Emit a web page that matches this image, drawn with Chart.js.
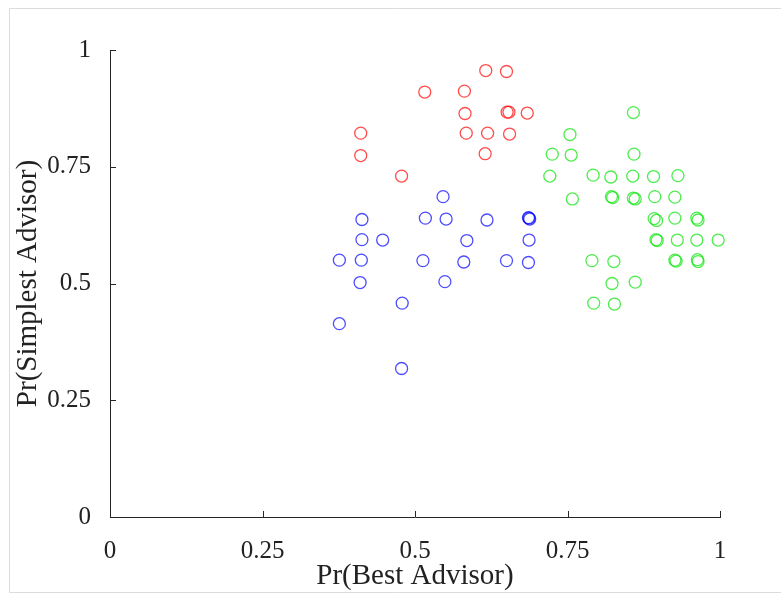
<!DOCTYPE html>
<html>
<head>
<meta charset="utf-8">
<script src="https://cdn.jsdelivr.net/npm/chart.js@4/dist/chart.umd.min.js"></script>
<style>
  html, body { margin: 0; padding: 0; background: #fff; }
  #wrap { position: relative; width: 781px; height: 594px; }
</style>
</head>
<body>
<div id="wrap"><canvas id="chart" width="781" height="594"></canvas></div>
<script>
// values
const tickValues = [0, 0.25, 0.5, 0.75, 1];
const tickLabels = ['0', '0.25', '0.5', '0.75', '1'];

const redX = [0.616, 0.650, 0.516, 0.581, 0.582, 0.651, 0.654, 0.684, 0.411, 0.584, 0.619, 0.655, 0.411, 0.615, 0.478];
const redY = [0.956, 0.954, 0.910, 0.912, 0.864, 0.867, 0.867, 0.865, 0.822, 0.822, 0.822, 0.820, 0.774, 0.778, 0.730];

const blueX = [0.546, 0.413, 0.517, 0.551, 0.618, 0.687, 0.688, 0.686, 0.413, 0.447, 0.585, 0.687,
               0.376, 0.412, 0.513, 0.580, 0.650, 0.686, 0.410, 0.549, 0.479, 0.376, 0.478];
const blueY = [0.686, 0.637, 0.640, 0.638, 0.636, 0.640, 0.638, 0.641, 0.594, 0.593, 0.592, 0.593,
               0.550, 0.550, 0.549, 0.546, 0.549, 0.545, 0.502, 0.504, 0.458, 0.414, 0.318];

const greenX = [0.858, 0.754, 0.725, 0.756, 0.859, 0.721, 0.792, 0.821, 0.857, 0.891, 0.931,
                0.758, 0.822, 0.824, 0.858, 0.861, 0.893, 0.926,
                0.892, 0.896, 0.926, 0.962, 0.964,
                0.895, 0.897, 0.930, 0.962, 0.997,
                0.790, 0.826, 0.926, 0.928, 0.963, 0.964,
                0.823, 0.861, 0.793, 0.827];
const greenY = [0.866, 0.819, 0.777, 0.775, 0.777, 0.730, 0.732, 0.728, 0.730, 0.729, 0.731,
                0.681, 0.686, 0.684, 0.683, 0.681, 0.686, 0.685,
                0.639, 0.635, 0.640, 0.640, 0.636,
                0.594, 0.592, 0.593, 0.593, 0.593,
                0.549, 0.547, 0.550, 0.548, 0.551, 0.547,
                0.500, 0.503, 0.458, 0.456];

const toPoints = (xs, ys) => xs.map((x, i) => ({ x: x, y: ys[i] }));

const serif = '"Liberation Serif", "DejaVu Serif", serif';
const axisColor = '#262626';

const makeSet = (label, xs, ys, color) => ({
    label: label,
    data: toPoints(xs, ys),
    pointStyle: 'circle',
    pointRadius: 6,
    pointHoverRadius: 6,
    borderWidth: 1.3,
    borderColor: color,
    backgroundColor: 'rgba(0,0,0,0)',
    clip: false
});

// light frame around the figure + inward tick marks like the original
const framePlugin = {
    id: 'frame',
    beforeDraw(chart) {
        const ctx = chart.ctx;
        ctx.save();
        ctx.fillStyle = '#fff';
        ctx.fillRect(0, 0, chart.width, chart.height);
        ctx.strokeStyle = '#dcdcdc';
        ctx.lineWidth = 1;
        ctx.beginPath();
        ctx.moveTo(9.5, chart.height - 1.5);
        ctx.lineTo(9.5, 8.5);
        ctx.lineTo(chart.width, 8.5);
        ctx.moveTo(9.5, chart.height - 1.5);
        ctx.lineTo(chart.width, chart.height - 1.5);
        ctx.stroke();
        ctx.restore();
    },
    afterDraw(chart) {
        const ctx = chart.ctx;
        const xs = chart.scales.x, ys = chart.scales.y;
        const area = chart.chartArea;
        ctx.save();
        ctx.strokeStyle = axisColor;
        ctx.lineWidth = 1;
        ctx.beginPath();
        tickValues.forEach(v => {
            const px = Math.round(xs.getPixelForValue(v)) + 0.5;
            ctx.moveTo(px, area.bottom);
            ctx.lineTo(px, area.bottom - 6);
            const py = Math.round(ys.getPixelForValue(v)) + 0.5;
            ctx.moveTo(area.left, py);
            ctx.lineTo(area.left + 6, py);
        });
        ctx.stroke();
        ctx.restore();
    }
};

new Chart(document.getElementById('chart').getContext('2d'), {
    type: 'scatter',
    data: {
        datasets: [
            makeSet('Red', redX, redY, 'rgba(255, 0, 0, 0.7)'),
            makeSet('Blue', blueX, blueY, 'rgba(0, 0, 255, 0.7)'),
            makeSet('Green', greenX, greenY, 'rgba(0, 230, 0, 0.7)')
        ]
    },
    options: {
        responsive: false,
        animation: false,
        layout: { padding: { top: 50, right: 61, left: 0, bottom: 0 } },
        plugins: {
            legend: { display: false },
            tooltip: { enabled: false }
        },
        scales: {
            x: {
                type: 'linear',
                min: 0,
                max: 1,
                afterFit: scale => { scale.height = 77; },
                afterBuildTicks: scale => { scale.ticks = tickValues.map(v => ({ value: v })); },
                grid: { display: false },
                border: { display: true, color: axisColor, width: 1 },
                ticks: {
                    padding: 11,
                    color: '#222',
                    font: { family: serif, size: 25, lineHeight: 1.2 },
                    callback: (v, i) => tickLabels[i]
                },
                title: {
                    display: true,
                    text: 'Pr(Best Advisor)',
                    color: '#222',
                    padding: { top: 0, bottom: 0 },
                    font: { family: serif, size: 29, lineHeight: 1.2 }
                }
            },
            y: {
                type: 'linear',
                min: 0,
                max: 1,
                afterFit: scale => { scale.width = 110; },
                afterBuildTicks: scale => { scale.ticks = tickValues.map(v => ({ value: v })); },
                grid: { display: false },
                border: { display: true, color: axisColor, width: 1 },
                ticks: {
                    padding: 11,
                    color: '#222',
                    font: { family: serif, size: 25, lineHeight: 1.2 },
                    callback: (v, i) => tickLabels[i]
                },
                title: {
                    display: true,
                    text: 'Pr(Simplest Advisor)',
                    color: '#222',
                    padding: { top: 11, bottom: 0 },
                    font: { family: serif, size: 29, lineHeight: 1.2 }
                }
            }
        }
    },
    plugins: [framePlugin]
});
</script>
</body>
</html>
